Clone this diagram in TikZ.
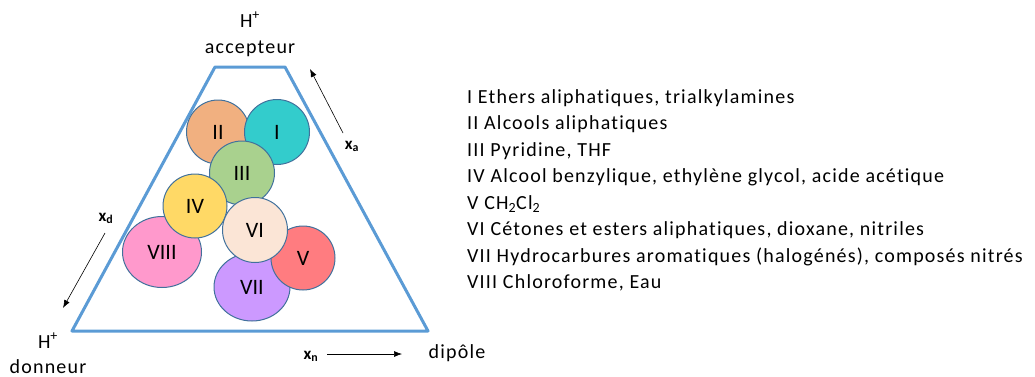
\documentclass[tikz,border=0pt]{standalone}
\usepackage{fontspec}
\setmainfont{Carlito}
\newfontfamily\spaced[LetterSpace=6,Ligatures=NoCommon]{Carlito}
\usetikzlibrary{positioning,shapes.geometric,arrows.meta}
\definecolor{trapblue}{RGB}{91,155,213}
\definecolor{rimblue}{RGB}{65,113,156}
\definecolor{colI}{RGB}{51,204,204}
\definecolor{colII}{RGB}{241,176,128}
\definecolor{colIII}{RGB}{169,209,142}
\definecolor{colIV}{RGB}{255,217,102}
\definecolor{colV}{RGB}{255,124,128}
\definecolor{colVI}{RGB}{251,229,214}
\definecolor{colVII}{RGB}{204,153,255}
\definecolor{colVIII}{RGB}{255,153,204}
\tikzset{solvent/.style={ellipse, draw=rimblue, line width=1pt, inner sep=0pt,
        font=\fontsize{22}{22}\selectfont},
    corner/.style={font=\spaced\fontsize{20}{22}\selectfont, inner sep=0pt, anchor=base},
    legend/.style={font=\spaced\fontsize{20}{22}\selectfont, inner sep=0pt, anchor=base west},
    axis/.style={font=\fontsize{17}{20}\selectfont\bfseries, inner sep=0pt, anchor=base},
    myarrow/.style={-{Latex[length=8pt,width=6pt]}, line width=0.6pt}}

\begin{document}
\begin{tikzpicture}[x=1pt,y=-1pt]
\useasboundingbox (0,0) rectangle (1035,376);

	% trapeze
	\coordinate (BL) at (72,331);
	\coordinate (BR) at (428,331);
	\coordinate (TR) at (285,67);
	\coordinate (TL) at (215,67);
	\draw[trapblue, line width=3pt, line join=round] (BL) -- (BR) -- (TR) -- (TL) -- cycle;

	% solvent groups
	\node (g2) [solvent, fill=colII, minimum width=63pt, minimum height=64pt] at (218,132) {II};
	\node (g1) [solvent, fill=colI, minimum width=65pt, minimum height=65pt] at (277,132) {I};
	\node (g3) [solvent, fill=colIII, minimum width=65pt, minimum height=64pt] at (242,173) {III};
	\node (g8) [solvent, fill=colVIII, minimum width=79pt, minimum height=71pt] at (162,252) {VIII};
	\node (g4) [solvent, fill=colIV, minimum width=64pt, minimum height=64pt] at (195,206) {IV};
	\node (g7) [solvent, fill=colVII, minimum width=76pt, minimum height=68pt] at (252,287) {VII};
	\node (g5) [solvent, fill=colV, minimum width=64pt, minimum height=64pt] at (303,258) {V};
	\node (g6) [solvent, fill=colVI, minimum width=65pt, minimum height=65pt] at (255,230) {VI};

	% corners
	\node (acc1) [corner] at (250,27) {H\textsuperscript{+}};
	\node (acc2) [corner] at (250,53) {accepteur};
	\node (don1) [corner] at (48,348) {H\textsuperscript{+}};
	\node (don2) [corner] at (48,373) {donneur};
	\node (dip) [corner] at (457,358) {dipôle};

	% axes
	\node (xa) [axis] at (352,149) {x\textsubscript{a}};
	\node (xd) [axis] at (106,221) {x\textsubscript{d}};
	\node (xn) [axis] at (311,359) {x\textsubscript{n}};
	\coordinate (xaend) at (310,69);
	\coordinate (xdend) at (63,308);
	\coordinate (xnend) at (402,354);
	\draw[myarrow] (343,133) -- (xaend);
	\draw[myarrow] (105,233) -- (xdend);
	\draw[myarrow] (327,354) -- (xnend);

	% legend
	\node (l1) [legend] at (467,103) {I Ethers aliphatiques, trialkylamines};
	\node (l2) [legend] at (467,129.5) {II Alcools aliphatiques};
	\node (l3) [legend] at (467,156) {III Pyridine, THF};
	\node (l4) [legend] at (467,182.5) {IV Alcool benzylique, ethylène glycol, acide acétique};
	\node (l5) [legend] at (467,209) {V CH\textsubscript{2}Cl\textsubscript{2}};
	\node (l6) [legend] at (467,235.5) {VI Cétones et esters aliphatiques, dioxane, nitriles};
	\node (l7) [legend] at (467,262) {VII Hydrocarbures aromatiques (halogénés), composés nitrés};
	\node (l8) [legend] at (467,288.5) {VIII Chloroforme, Eau};

\end{tikzpicture}
\end{document}
